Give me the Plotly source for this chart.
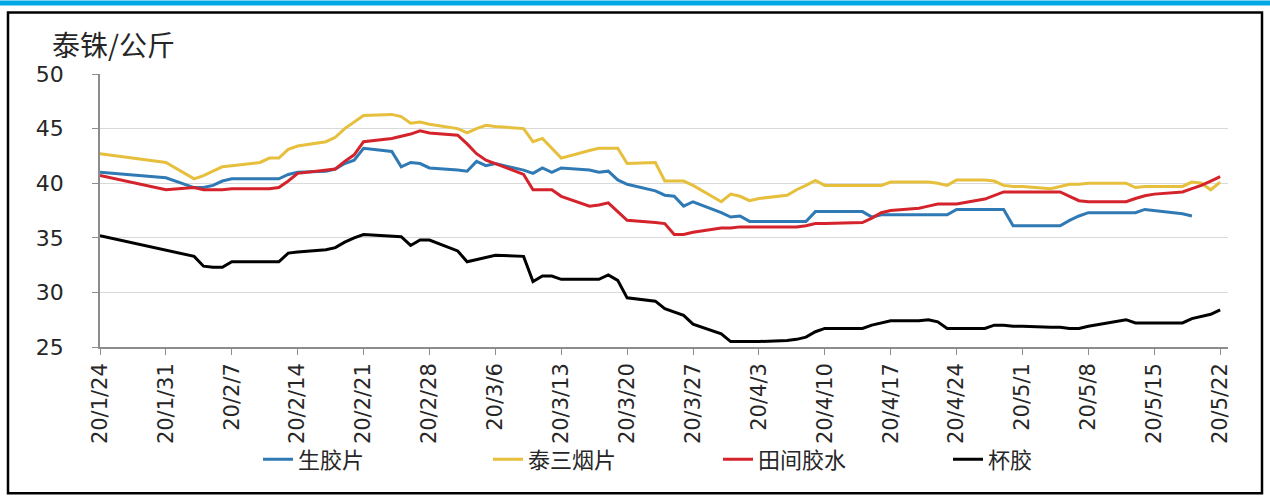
import datetime as dt
import plotly.graph_objects as go

# trading days (1/24 then 1/31, then weekdays from 2/3 to 5/22)
dates = ["2020-01-24", "2020-01-31"]
weeks = ["2020-02-03", "2020-02-10", "2020-02-17", "2020-02-24", "2020-03-02",
         "2020-03-09", "2020-03-16", "2020-03-23", "2020-03-30", "2020-04-06",
         "2020-04-13", "2020-04-20", "2020-04-27", "2020-05-04", "2020-05-11",
         "2020-05-18"]
for w in weeks:
    d0 = dt.date.fromisoformat(w)
    for k in range(5):
        dates.append((d0 + dt.timedelta(days=k)).isoformat())

# 生胶片
sheet = [41.0, 40.5,
         39.6, 39.6, 39.8, 40.2, 40.4,
         40.4, 40.4, 40.4, 40.8, 41.0,
         41.1, 41.3, 41.8, 42.1, 43.2,
         42.9, 41.5, 41.9, 41.8, 41.4,
         41.2, 41.1, 42.0, 41.6, 41.8,
         41.2, 40.9, 41.4, 41.0, 41.4,
         41.2, 41.0, 41.1, 40.3, 39.9,
         39.3, 38.9, 38.8, 37.9, 38.3,
         37.3, 36.9, 37.0, 36.5, 36.5,
         36.5, 36.5, 36.5, 37.4, 37.4,
         37.4, 37.4, 36.9, 37.1, 37.1,
         37.1, 37.1, 37.1, 37.1, 37.6,
         37.6, 37.6, 37.6, 36.1, 36.1,
         36.1, 36.1, 36.6, 37.0, 37.3,
         37.3, 37.3, 37.3, 37.6, 37.5,
         37.2, 37.0, None, None, None]

# 泰三烟片
rss3 = [42.7, 41.9,
        40.4, 40.7, 41.1, 41.5, 41.6,
        41.9, 42.3, 42.3, 43.1, 43.4,
        43.8, 44.2, 45.0, 45.6, 46.2,
        46.3, 46.1, 45.5, 45.6, 45.4,
        45.0, 44.6, 45.0, 45.3, 45.2,
        45.0, 43.8, 44.1, 43.2, 42.3,
        43.0, 43.2, 43.2, 43.2, 41.8,
        41.9, 40.2, 40.2, 40.2, 39.8,
        38.3, 39.0, 38.8, 38.4, 38.6,
        38.9, 39.4, 39.8, 40.25, 39.8,
        39.8, 39.8, 39.8, 39.8, 40.1,
        40.1, 40.1, 40.0, 39.8, 40.3,
        40.3, 40.2, 39.8, 39.7, 39.7,
        39.5, 39.7, 39.9, 39.9, 40.0,
        40.0, 40.0, 39.6, 39.7, 39.7,
        39.7, 40.1, 40.0, 39.4, 40.1]

# 田间胶水
latex = [40.7, 39.4,
         39.6, 39.4, 39.4, 39.4, 39.5,
         39.5, 39.5, 39.6, 40.2, 40.9,
         41.2, 41.3, 42.0, 42.6, 43.8,
         44.1, 44.3, 44.5, 44.8, 44.6,
         44.4, 43.6, 42.7, 42.1, 41.8,
         40.8, 39.4, 39.4, 39.4, 38.8,
         37.9, 38.0, 38.2, 37.4, 36.6,
         36.4, 36.3, 35.3, 35.3, 35.5,
         35.9, 35.9, 36.0, 36.0, 36.0,
         36.0, 36.0, 36.1, 36.3, 36.3,
         36.35, 36.4, 36.8, 37.3, 37.5,
         37.7, 37.9, 38.1, 38.1, 38.1,
         38.55, 38.9, 39.2, 39.2, 39.2,
         39.2, 39.2, 38.8, 38.4, 38.3,
         38.3, 38.3, 38.6, 38.85, 39.0,
         39.2, 39.5, 39.8, 40.2, 40.6]

# 杯胶
cuplump = [35.2, 33.9,
           33.3, 32.4, 32.3, 32.3, 32.8,
           32.8, 32.8, 32.8, 33.6, 33.7,
           33.9, 34.1, 34.6, 35.0, 35.3,
           35.2, 35.1, 34.3, 34.8, 34.8,
           33.8, 32.8, 33.0, 33.2, 33.4,
           33.3, 31.0, 31.5, 31.5, 31.2,
           31.2, 31.2, 31.6, 31.1, 29.5,
           29.2, 28.5, 28.2, 27.9, 27.1,
           26.2, 25.5, 25.5, 25.5, 25.5,
           25.6, 25.7, 25.9, 26.4, 26.7,
           26.7, 26.7, 27.0, 27.2, 27.4,
           27.4, 27.5, 27.3, 26.7, 26.7,
           26.7, 27.0, 27.0, 26.9, 26.9,
           26.8, 26.8, 26.7, 26.7, 26.9,
           27.3, 27.5, 27.2, 27.2, 27.2,
           27.2, 27.6, 27.8, 28.0, 28.4]

tick_dates = ["2020-01-24", "2020-01-31", "2020-02-07", "2020-02-14", "2020-02-21",
              "2020-02-28", "2020-03-06", "2020-03-13", "2020-03-20", "2020-03-27",
              "2020-04-03", "2020-04-10", "2020-04-17", "2020-04-24", "2020-05-01",
              "2020-05-08", "2020-05-15", "2020-05-22"]
tick_text = ["20/1/24", "20/1/31", "20/2/7", "20/2/14", "20/2/21", "20/2/28",
             "20/3/6", "20/3/13", "20/3/20", "20/3/27", "20/4/3", "20/4/10",
             "20/4/17", "20/4/24", "20/5/1", "20/5/8", "20/5/15", "20/5/22"]

W, H = 1270, 496
L, R, T, B = 100, 1228, 73.6, 347.3


def px(x):
    return (x - L) / (R - L)


def py(y):
    return (B - y) / (B - T)


fig = go.Figure()
fig.add_trace(go.Scatter(x=dates, y=sheet, name="生胶片", mode="lines",
                         line=dict(color="#2f7ab5", width=3)))
fig.add_trace(go.Scatter(x=dates, y=rss3, name="泰三烟片", mode="lines",
                         line=dict(color="#e6bf3c", width=3)))
fig.add_trace(go.Scatter(x=dates, y=latex, name="田间胶水", mode="lines",
                         line=dict(color="#d4232b", width=3)))
fig.add_trace(go.Scatter(x=dates, y=cuplump, name="杯胶", mode="lines",
                         line=dict(color="#000000", width=3)))

fig.update_xaxes(range=["2020-01-24", "2020-05-22 20:00"], tickvals=tick_dates,
                 ticktext=tick_text, tickangle=-90, ticks="outside", ticklen=6,
                 tickcolor="#8c8c8c", showline=True, linecolor="#8c8c8c",
                 linewidth=1.5, showgrid=False, zeroline=False, automargin=False,
                 tickfont=dict(family="DejaVu Sans", size=21, color="#262626"))
fig.update_yaxes(range=[25, 50], dtick=5, ticks="outside", ticklen=6,
                 tickcolor="#8c8c8c", showline=True, linecolor="#8c8c8c",
                 linewidth=1.5, gridcolor="#d9d9d9", gridwidth=1, zeroline=False,
                 automargin=False, ticklabelstandoff=24,
                 tickfont=dict(family="DejaVu Sans", size=22, color="#262626"))

fig.add_annotation(text="泰铢/公斤", xref="paper", yref="paper", x=px(50), y=py(44),
                   xanchor="left", yanchor="middle", showarrow=False,
                   font=dict(family="Noto Sans CJK SC", size=28, color="#262626"))

# outer frame and top blue rule
fig.add_shape(type="rect", xref="paper", yref="paper", x0=px(8), x1=px(1262),
              y0=py(494), y1=py(12), line=dict(color="#000000", width=2.5))
fig.add_shape(type="line", xref="paper", yref="paper", x0=px(0), x1=px(1270),
              y0=py(2.5), y1=py(2.5), line=dict(color="#00a9e6", width=5))

fig.update_layout(
    width=W, height=H, autosize=False,
    margin=dict(l=L, r=W - R, t=T, b=H - B),
    paper_bgcolor="white", plot_bgcolor="white",
    legend=dict(orientation="h", x=px(258), y=py(460), xanchor="left",
                yanchor="middle", entrywidth=185, entrywidthmode="pixels",
                font=dict(family="Noto Sans CJK SC", size=22, color="#262626"),
                bgcolor="rgba(0,0,0,0)"),
)

# page body has a default 8px margin; drop it so the figure sits at the corner
fig.write_html("out.html", config={"displayModeBar": False},
               post_script="document.body.style.margin='0';document.body.style.overflow='hidden';")
